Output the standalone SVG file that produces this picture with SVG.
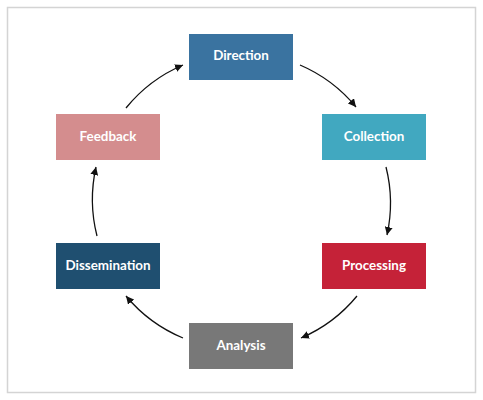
<svg xmlns="http://www.w3.org/2000/svg" width="483" height="400" viewBox="0 0 483 400">
<style>
.box{stroke:none}
.lbl{font-family:Lato,"Open Sans","Liberation Sans",sans-serif;font-weight:700;font-size:13.4px;fill:#ffffff;text-anchor:middle}
.conn{fill:none;stroke:#111111;stroke-width:1.3}
</style>
<defs>
<marker id="ah" viewBox="0 0 10 10" refX="10" refY="5" markerWidth="8" markerHeight="8" markerUnits="userSpaceOnUse" orient="auto">
<path d="M0,0 L10,5 L0,10 Z" fill="#111111"/>
</marker>
</defs>
<rect x="7.5" y="7.5" width="468" height="385" fill="#ffffff" stroke="#d4d4d4" stroke-width="1.5"/>
<g id="connectors">
<path class="conn" marker-end="url(#ah)" d="M300,65 A148,148 0 0 1 356,107"/>
<path class="conn" marker-end="url(#ah)" d="M386,167 A148,148 0 0 1 387,235"/>
<path class="conn" marker-end="url(#ah)" d="M357,296 A148,148 0 0 1 301,338"/>
<path class="conn" marker-end="url(#ah)" d="M183,338 A148,148 0 0 1 126,296"/>
<path class="conn" marker-end="url(#ah)" d="M97,236 A148,148 0 0 1 96,167"/>
<path class="conn" marker-end="url(#ah)" d="M126,108 A148,148 0 0 1 183,65"/>
</g>
<g id="direction"><rect class="box" x="189" y="34" width="104" height="46" fill="#3a73a0"/><text class="lbl" x="241" y="60">Direction</text></g>
<g id="collection"><rect class="box" x="322" y="114" width="104" height="46" fill="#41a8c0"/><text class="lbl" x="374" y="141">Collection</text></g>
<g id="processing"><rect class="box" x="322" y="243" width="104" height="46" fill="#c52238"/><text class="lbl" x="374" y="270">Processing</text></g>
<g id="analysis"><rect class="box" x="189" y="323" width="104" height="46" fill="#787878"/><text class="lbl" x="241" y="350">Analysis</text></g>
<g id="dissemination"><rect class="box" x="56" y="243" width="104" height="46" fill="#1f4f70"/><text class="lbl" x="108" y="270">Dissemination</text></g>
<g id="feedback"><rect class="box" x="56" y="114" width="104" height="46" fill="#d48d8e"/><text class="lbl" x="108" y="141">Feedback</text></g>
</svg>
